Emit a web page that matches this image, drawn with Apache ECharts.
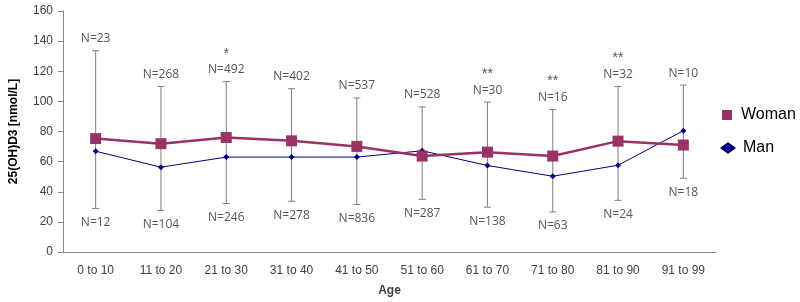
<!DOCTYPE html>
<html><head><meta charset="utf-8">
<script src="https://cdn.jsdelivr.net/npm/echarts@6/dist/echarts.min.js"></script>
<style>html,body{margin:0;padding:0;background:#fff}#c{width:800px;height:302px}</style>
</head><body><div id="c"></div>
<script>
const categories = ['0 to 10','11 to 20','21 to 30','31 to 40','41 to 50','51 to 60','61 to 70','71 to 80','81 to 90','91 to 99'];
const womanValues = [75.3, 71.9, 76.0, 73.8, 70.1, 63.7, 66.3, 63.7, 73.6, 71.0];
const manValues = [66.9, 56.3, 63.0, 63.0, 63.0, 67.2, 57.4, 50.3, 57.6, 80.5];
const errHigh = [133.6, 109.9, 113.1, 108.4, 102.3, 96.3, 99.5, 94.6, 109.9, 110.8];
const errLow = [28.9, 27.6, 32.2, 33.7, 31.5, 35.0, 29.8, 26.6, 34.3, 49.0];
const topN = ['N=23','N=268','N=492','N=402','N=537','N=528','N=30','N=16','N=32','N=10'];
const bottomN = ['N=12','N=104','N=246','N=278','N=836','N=287','N=138','N=63','N=24','N=18'];
const stars = ['','','*','','','','**','**','**',''];
const yTicks = [0,20,40,60,80,100,120,140,160];

const chart = echarts.init(document.getElementById('c'));
const gray = '#8a8a8a';
const labFont = '12px "Open Sans"';
const legendText = {fontFamily: 'Liberation Sans', fontSize: 16, color: '#000'};
chart.setOption({
  animation: false,
  grid: {left: 55, right: 84, top: 11, bottom: 44},
  legend: [
    {left: 717, top: 102, itemWidth: 10, itemHeight: 10,
     textStyle: Object.assign({padding: [0, 0, 0, 4]}, legendText),
     data: [{name: 'Woman', icon: 'rect'}]},
    {left: 715, top: 135, itemWidth: 16, itemHeight: 12,
     textStyle: Object.assign({padding: [0, 0, 0, 2]}, legendText),
     data: [{name: 'Man', icon: 'diamond'}]}
  ],
  xAxis: {
    type: 'category', data: categories, boundaryGap: true,
    name: 'Age', nameLocation: 'middle', nameGap: 33,
    nameTextStyle: {fontFamily: 'Liberation Sans', fontSize: 12, fontWeight: 'bold', color: '#404040'},
    axisLine: {lineStyle: {color: gray}},
    axisTick: {alignWithLabel: false, length: 5, lineStyle: {color: gray}},
    axisLabel: {fontFamily: 'Liberation Sans', fontSize: 12, color: '#404040', margin: 13}
  },
  yAxis: {
    type: 'value', min: 0, max: 160, interval: 20,
    name: '25(OH)D3 [nmol/L]', nameLocation: 'middle', nameGap: 43,
    nameTextStyle: {fontFamily: 'Liberation Sans', fontSize: 12, fontWeight: 'bold', color: '#000'},
    axisLine: {show: true, lineStyle: {color: gray}},
    axisTick: {show: true, length: 5, lineStyle: {color: gray}},
    splitLine: {show: false},
    axisLabel: {fontFamily: 'Liberation Sans', fontSize: 12, color: '#404040', margin: 10,
      formatter: v => yTicks.includes(v) ? String(v) : ''}
  },
  series: [
    {
      type: 'custom', name: 'err', z: 1, silent: true,
      data: categories.map((c, i) => [i, errLow[i], errHigh[i]]),
      renderItem: function (params, api) {
        const i = api.value(0);
        const lo = api.coord([i, api.value(1)]);
        const hi = api.coord([i, api.value(2)]);
        const x = lo[0], cw = 3.5;
        const st = {stroke: '#7f7f7f', lineWidth: 1};
        const children = [
          {type: 'line', shape: {x1: x, y1: lo[1], x2: x, y2: hi[1]}, style: st},
          {type: 'line', shape: {x1: x - cw, y1: lo[1], x2: x + cw, y2: lo[1]}, style: st},
          {type: 'line', shape: {x1: x - cw, y1: hi[1], x2: x + cw, y2: hi[1]}, style: st},
          {type: 'text', style: {text: topN[i], x: x, y: hi[1] - 12, align: 'center', verticalAlign: 'middle', font: labFont, fill: '#555'}},
          {type: 'text', style: {text: bottomN[i], x: x, y: lo[1] + 14, align: 'center', verticalAlign: 'middle', font: labFont, fill: '#555'}}
        ];
        if (stars[i]) {
          children.push({type: 'text', style: {text: stars[i], x: x, y: hi[1] - 28, align: 'center', verticalAlign: 'middle', font: '14px "Liberation Sans"', fill: '#555'}});
        }
        return {type: 'group', children: children};
      }
    },
    {
      type: 'line', name: 'Woman', data: womanValues, z: 3,
      symbol: 'rect', symbolSize: 11,
      lineStyle: {color: '#993366', width: 2.5},
      itemStyle: {color: '#993366'}
    },
    {
      type: 'line', name: 'Man', data: manValues, z: 2,
      symbol: 'diamond', symbolSize: 6,
      lineStyle: {color: '#000080', width: 1},
      itemStyle: {color: '#000080'}
    }
  ]
});
</script></body></html>
